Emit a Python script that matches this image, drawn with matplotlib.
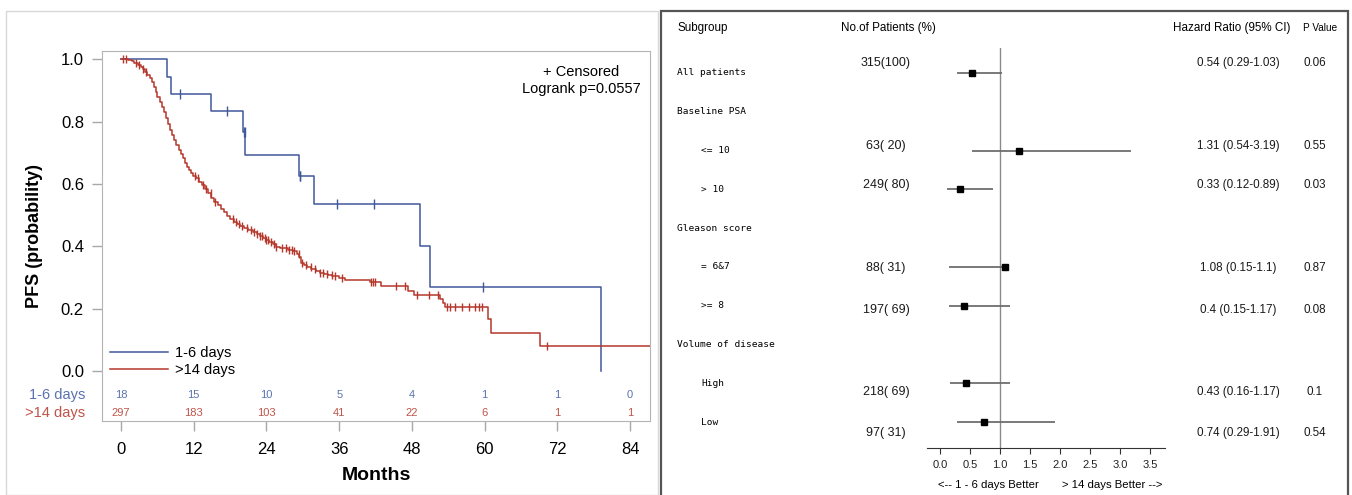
import numpy as np
import matplotlib
matplotlib.use("Agg")
import matplotlib.pyplot as plt
from matplotlib.patches import Rectangle
import matplotlib.transforms as mtransforms

# ---- Kaplan-Meier data ----
blue_t = [0, 7.6, 8.3, 14.9, 20.2, 20.5, 29.4, 31.8, 49.4, 51.0, 79.2]
blue_s = [1.0, 0.944, 0.889, 0.833, 0.767, 0.694, 0.625, 0.536, 0.402, 0.268, 0.0]
blue_cens = [9.7, 17.5, 20.3, 20.4, 29.5, 29.6, 35.6, 41.8, 59.8]

red_t = [0, 1.2, 1.8, 2.2, 2.8, 3.3, 3.7, 4.0, 4.35, 4.7, 5.05, 5.4, 5.7, 6.0,
         6.35, 6.7, 7.05, 7.4, 7.75, 8.1, 8.45, 8.8, 9.15, 9.5, 9.85, 10.2,
         10.55, 10.9, 11.25, 11.6, 11.95, 12.3, 12.8, 13.3, 13.85, 14.4, 14.9,
         15.4, 15.95, 16.5, 17.0, 17.5, 18.05, 18.6, 19.1, 19.6, 20.3, 21.0,
         21.7, 22.4, 22.9, 23.4, 24.0, 24.5, 25.0, 25.5, 26.2, 26.9, 27.6, 28.3,
         29.0, 29.4, 29.7, 30.2, 30.7, 31.4, 32.1, 32.8, 33.5, 34.2, 34.9, 36.0,
         37.0, 41.1, 42.9, 47.4, 48.4, 52.6, 53.1, 53.5, 60.6, 61.0, 69.1, 88.0]
red_s = [1.0, 0.998, 0.993, 0.987, 0.981, 0.976, 0.968, 0.960, 0.950, 0.939,
         0.926, 0.912, 0.896, 0.880, 0.864, 0.848, 0.829, 0.810, 0.791, 0.773,
         0.757, 0.741, 0.725, 0.709, 0.695, 0.682, 0.668, 0.655, 0.644, 0.634,
         0.626, 0.618, 0.607, 0.596, 0.583, 0.570, 0.556, 0.543, 0.532, 0.521,
         0.509, 0.497, 0.488, 0.479, 0.472, 0.465, 0.458, 0.452, 0.445, 0.439,
         0.434, 0.428, 0.421, 0.414, 0.406, 0.398, 0.395, 0.393, 0.389, 0.385,
         0.376, 0.366, 0.345, 0.340, 0.334, 0.327, 0.321, 0.316, 0.310, 0.307,
         0.304, 0.298, 0.293, 0.286, 0.272, 0.258, 0.245, 0.232, 0.218, 0.206,
         0.168, 0.123, 0.080, 0.080]
red_cens = [0.3, 0.8, 2.5, 3.0, 3.7, 4.2, 12.2, 12.7, 13.5, 14.0, 14.8, 15.5,
            18.5, 19.0, 19.5, 20.0, 20.8, 21.5, 22.0, 22.5, 23.0, 23.3, 23.7,
            24.0, 24.3, 24.7, 25.2, 25.6, 26.5, 27.3, 27.8, 28.2, 28.6, 29.3,
            29.8, 30.5, 31.3, 32.0, 32.8, 33.3, 34.0, 34.8, 35.3, 36.5, 41.3,
            41.6, 41.9, 45.3, 46.8, 48.8, 50.8, 52.3, 53.8, 54.3, 55.2, 56.3,
            57.4, 58.5, 59.0, 59.5, 70.3]

risk_times = [0, 12, 24, 36, 48, 60, 72, 84]
risk_blue = [18, 15, 10, 5, 4, 1, 1, 0]
risk_red = [297, 183, 103, 41, 22, 6, 1, 1]

# ---- forest plot data ----
sub_labels = ["All patients", "Baseline PSA", "<= 10", "> 10", "Gleason score",
              "= 6&7", ">= 8", "Volume of disease", "High", "Low"]
sub_indent = [0, 0, 1, 1, 0, 1, 1, 0, 1, 1]
est_rows = [0, 2, 3, 5, 6, 8, 9]
hr = [0.54, 1.31, 0.33, 1.08, 0.4, 0.43, 0.74]
hr_lo = [0.29, 0.54, 0.12, 0.15, 0.15, 0.16, 0.29]
hr_hi = [1.03, 3.19, 0.89, 1.1, 1.17, 1.17, 1.91]
n_pat = ["315(100)", "63( 20)", "249( 80)", "88( 31)", "197( 69)", "218( 69)", "97( 31)"]
hr_text = ["0.54 (0.29-1.03)", "1.31 (0.54-3.19)", "0.33 (0.12-0.89)", "1.08 (0.15-1.1)",
           "0.4 (0.15-1.17)", "0.43 (0.16-1.17)", "0.74 (0.29-1.91)"]
p_text = ["0.06", "0.55", "0.03", "0.87", "0.08", "0.1", "0.54"]

BLUE = "#41599b"
RED = "#b5372a"
BLUE_T = "#5a72ae"
RED_T = "#bf5449"
SANS = ["Liberation Sans", "DejaVu Sans"]

W, H = 1352, 495


def fx(px):
    return px / W


def fy(py):
    return 1 - py / H


def step_at(t, times, surv):
    idx = np.searchsorted(times, t, side="right") - 1
    return np.asarray(surv)[idx]


fig = plt.figure(figsize=(W / 100, H / 100), dpi=100)
fig.patch.set_facecolor("white")

# panel frames
fig.patches.append(Rectangle((fx(6), 0), fx(658) - fx(6), fy(11), transform=fig.transFigure,
                             fill=False, edgecolor="#d8d8d8", lw=1))
fig.patches.append(Rectangle((fx(661), -0.01), fx(1348) - fx(661), fy(11) + 0.01,
                             transform=fig.transFigure, fill=False, edgecolor="#555555", lw=1.6))

# ================= Kaplan-Meier =================
ax = fig.add_axes([fx(102), fy(421), fx(650) - fx(102), fy(51) - fy(421)])
ax.plot(blue_t, blue_s, drawstyle="steps-post", color=BLUE, lw=1.1, label="1-6 days")
ax.plot(red_t, red_s, drawstyle="steps-post", color=RED, lw=1.1, label=">14 days")
ax.plot(blue_cens, step_at(blue_cens, blue_t, blue_s), ls="none", marker="|",
        ms=7, mew=1.0, color=BLUE)
ax.plot(red_cens, step_at(red_cens, red_t, red_s), ls="none", marker="|",
        ms=6, mew=1.0, color=RED)

ax.set_xlim(-3.14, 87.3)
ax.set_ylim(-0.160, 1.026)
ax.set_xticks(risk_times)
ax.set_yticks([0, 0.2, 0.4, 0.6, 0.8, 1.0])
ax.set_yticklabels(["0.0", "0.2", "0.4", "0.6", "0.8", "1.0"])
ax.tick_params(axis="both", color="#a8a8a8", length=7, width=1, labelsize=12)
ax.tick_params(axis="x", pad=8)
ax.tick_params(axis="y", pad=6)
for lab in ax.get_xticklabels() + ax.get_yticklabels():
    lab.set_family(SANS)
for sp in ax.spines.values():
    sp.set_color("#b4b4b4")
ax.set_xlabel("Months", fontsize=14, fontweight="bold", family=SANS, labelpad=7)
ax.set_ylabel("PFS (probability)", fontsize=13, fontweight="bold", family=SANS, labelpad=13)

# risk table
for t, nb, nr in zip(risk_times, risk_blue, risk_red):
    ax.text(t, -0.077, str(nb), color=BLUE_T, fontsize=8, ha="center", va="center", family=SANS)
    ax.text(t, -0.135, str(nr), color=RED_T, fontsize=8, ha="center", va="center", family=SANS)
trans = mtransforms.blended_transform_factory(ax.transAxes, ax.transData)
ax.text(-0.03, -0.077, "1-6 days", color=BLUE_T, fontsize=10.5, ha="right", va="center",
        transform=trans, family=SANS)
ax.text(-0.03, -0.135, ">14 days", color=RED_T, fontsize=10.5, ha="right", va="center",
        transform=trans, family=SANS)

ax.text(0.874, 0.962, "+ Censored\nLogrank p=0.0557", transform=ax.transAxes, ha="center",
        va="top", multialignment="center", fontsize=10.5, family=SANS, linespacing=1.25)

ax.legend(loc="lower left", bbox_to_anchor=(0.014, 0.118), frameon=False,
          handlelength=4.0, handletextpad=0.5, labelspacing=0.2, borderaxespad=0, borderpad=0,
          prop={"family": SANS, "size": 10.5})

# ================= Forest plot =================
ax2 = fig.add_axes([fx(927), fy(448), fx(1165) - fx(927), fy(48) - fy(448)])
ax2.set_xlim(-0.217, 3.75)
ax2.set_ylim(9.665, -0.644)
for side in ["top", "left", "right"]:
    ax2.spines[side].set_visible(False)
ax2.spines["bottom"].set_color("#333333")
ax2.set_yticks([])
ax2.set_xticks(np.arange(0, 3.51, 0.5))
ax2.set_xticklabels([f"{v:.1f}" for v in np.arange(0, 3.51, 0.5)])
ax2.tick_params(axis="x", length=4, color="#333333", labelsize=8, pad=5)
for lab in ax2.get_xticklabels():
    lab.set_family(SANS)
    lab.set_color("#222222")
ax2.axvline(1.0, color="#8a8a8a", lw=1)
ax2.hlines(est_rows, hr_lo, hr_hi, color="#6e6e6e", lw=1.3)
ax2.plot(hr, est_rows, ls="none", marker="s", ms=5, color="black")

# text columns (x in figure coords, y in row units)
tr = mtransforms.blended_transform_factory(fig.transFigure, ax2.transData)
row_px = 38.8
text_dy = [-10, -5, -4, 1, 4, 9, 11]  # vertical offsets (px) of the text columns

for i, (lab, ind) in enumerate(zip(sub_labels, sub_indent)):
    ax2.text(fx(677 + 24 * ind), i, lab, transform=tr, ha="left", va="center",
             fontsize=6.8, family=["DejaVu Sans Mono"], color="black", clip_on=False)

for r, n, h, p, dy in zip(est_rows, n_pat, hr_text, p_text, text_dy):
    y = r + dy / row_px
    ax2.text(fx(886), y, n, transform=tr, ha="center", va="center", fontsize=9,
             family=SANS, color="#1a1a1a", clip_on=False)
    ax2.text(fx(1238), y, h, transform=tr, ha="center", va="center", fontsize=8.4,
             family=SANS, color="#1a1a1a", clip_on=False)
    ax2.text(fx(1315), y, p, transform=tr, ha="center", va="center", fontsize=8.4,
             family=SANS, color="#1a1a1a", clip_on=False)

fig.text(fx(677), fy(28), "Subgroup", ha="left", va="center", fontsize=8.4, family=SANS)
fig.text(fx(888), fy(28), "No.of Patients (%)", ha="center", va="center", fontsize=8.4, family=SANS)
fig.text(fx(1232), fy(28), "Hazard Ratio (95% CI)", ha="center", va="center", fontsize=8.4, family=SANS)
fig.text(fx(1320), fy(28), "P Value", ha="center", va="center", fontsize=7.2, family=SANS)
fig.text(fx(988), fy(485), "<-- 1 - 6 days Better", ha="center", va="center", fontsize=8.2, family=SANS)
fig.text(fx(1112), fy(485), "> 14 days Better -->", ha="center", va="center", fontsize=8.2, family=SANS)

fig.savefig("out.png", dpi=100)
